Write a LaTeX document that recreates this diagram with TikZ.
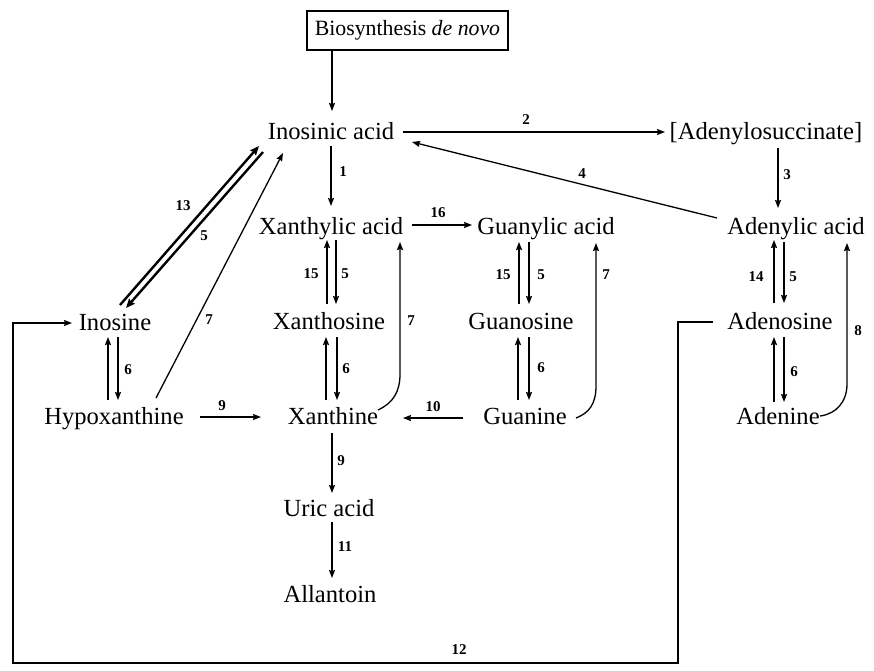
\documentclass[tikz,border=0pt]{standalone}
\usepackage{fontspec}
\setmainfont{Liberation Serif}
\usetikzlibrary{arrows.meta,calc}
\begin{document}
\begin{tikzpicture}[x=1pt,y=-1pt,
  chem/.style={inner sep=0pt,text height=16pt,text depth=0pt,font=\fontsize{24.6}{27}\selectfont},
  lbl/.style={inner sep=0pt,font=\fontsize{15}{15}\selectfont\bfseries},
  arr/.style={line width=1.3pt,-{Stealth[length=8pt,width=6pt,inset=1pt]}},
  thickarr/.style={line width=2.4pt,-{Stealth[length=9pt,width=7.5pt,inset=1pt]}},
  plain/.style={line width=1.3pt}]
\useasboundingbox (0,0) rectangle (874,670);
% nodes
\node[draw,line width=1.5pt,minimum width=201pt,minimum height=39pt,inner sep=0pt,font=\fontsize{21.8}{24}\selectfont] (bio) at (407.5,30.5) {Biosynthesis \textit{de novo}};
\node[chem] (ia) at (331,131) {Inosinic acid};
\node[chem] (as) at (766,131) {[Adenylosuccinate]};
\node[chem] (xa) at (331,226) {Xanthylic acid};
\node[chem] (ga) at (546,226) {Guanylic acid};
\node[chem] (ada) at (796,226) {Adenylic acid};
\node[chem] (ino) at (115,322) {Inosine};
\node[chem] (xs) at (329,321) {Xanthosine};
\node[chem] (gs) at (521,321) {Guanosine};
\node[chem] (ads) at (780,321) {Adenosine};
\node[chem] (hx) at (114,416) {Hypoxanthine};
\node[chem] (xn) at (333,416) {Xanthine};
\node[chem] (gn) at (525,416) {Guanine};
\node[chem] (ade) at (778,416) {Adenine};
\node[chem] (ua) at (329,508) {Uric acid};
\node[chem] (al) at (330,594) {Allantoin};
% connectors
\draw[arr] ($(bio.south)+(-75.5,0)$) -- ($(ia)+(1,-20)$);
\draw[arr] ($(ia)+(72,1)$) -- ($(as)+(-101,1)$);
\draw[arr] ($(as)+(12,17)$) -- ($(ada)+(-18,-18)$);
\draw[arr] ($(ada)+(-79,-8)$) -- ($(ia)+(81,11)$);
\draw[arr] ($(ia)+(0,15)$) -- ($(xa)+(0,-20)$);
\draw[arr] ($(xa)+(81,-1)$) -- ($(ga)+(-74,-1)$);
% xa <-> xs
\draw[arr] ($(xs)+(-2,-17)$) -- ($(xa)+(-4,14)$);
\draw[arr] ($(xa)+(5,14)$) -- ($(xs)+(7,-17)$);
% xs <-> xn
\draw[arr] ($(xn)+(-7,-16)$) -- ($(xs)+(-3,16)$);
\draw[arr] ($(xs)+(8,16)$) -- ($(xn)+(4,-16)$);
% 7 xn -> xa
\draw[arr] ($(xn)+(45,-6)$) .. controls ($(xn)+(60,-13)$) and ($(xn)+(67,-24)$) .. ($(xn)+(67,-42)$) -- ($(xa)+(69,16)$);
% ga <-> gs
\draw[arr] ($(gs)+(-2,-17)$) -- ($(ga)+(-27,16)$);
\draw[arr] ($(ga)+(-17,16)$) -- ($(gs)+(8,-17)$);
% gs <-> gn
\draw[arr] ($(gn)+(-7,-16)$) -- ($(gs)+(-3,16)$);
\draw[arr] ($(gs)+(8,16)$) -- ($(gn)+(4,-16)$);
% 7 gn -> ga
\draw[arr] ($(gn)+(51,2)$) .. controls ($(gn)+(64,-3)$) and ($(gn)+(71,-12)$) .. ($(gn)+(71,-30)$) -- ($(ga)+(50,17)$);
% 10, 9
\draw[arr] ($(gn)+(-62,2)$) -- ($(xn)+(70,2)$);
\draw[arr] ($(hx)+(86,1)$) -- ($(xn)+(-72,1)$);
% ada <-> ads
\draw[arr] ($(ads)+(-6,-18)$) -- ($(ada)+(-22,14)$);
\draw[arr] ($(ada)+(-12,16)$) -- ($(ads)+(4,-18)$);
% ads <-> ade
\draw[arr] ($(ade)+(-4,-14)$) -- ($(ads)+(-6,16)$);
\draw[arr] ($(ads)+(4,16)$) -- ($(ade)+(6,-14)$);
% 8
\draw[arr] ($(ade)+(42,0)$) .. controls ($(ade)+(58,-2)$) and ($(ade)+(69,-14)$) .. ($(ade)+(69,-32)$) -- ($(ada)+(51,17)$);
% 12 loop
\draw[arr] ($(ads)+(-67,1)$) -- ++(-35,0) -- ++(0,341) -- ++(-665,0) |- ($(ino)+(-43,1)$);
% ino <-> hx
\draw[arr] ($(hx)+(-6,-16)$) -- ($(ino)+(-7,15)$);
\draw[arr] ($(ino)+(3,15)$) -- ($(hx)+(4,-16)$);
% 7 hx -> ia
\draw[arr] ($(hx)+(42,-18)$) -- ($(ia)+(-48,22)$);
% 13 / 5
\draw[thickarr] ($(ino)+(5,-17)$) -- ($(ia)+(-72,15)$);
\draw[thickarr] ($(ia)+(-68,21)$) -- ($(ino)+(11,-14)$);
% 9, 11
\draw[arr] ($(xn)+(-1,17)$) -- ($(ua)+(3,-15)$);
\draw[arr] ($(ua)+(3,14)$) -- ($(al)+(2,-16)$);
% labels
\node[lbl] (l2) at (526,120) {2};
\node[lbl] (l3) at (787,175) {3};
\node[lbl] (l4) at (582,174) {4};
\node[lbl] (l1) at (343,172) {1};
\node[lbl] (l16) at (438,213) {16};
\node[lbl] (l15a) at (311,274) {15};
\node[lbl] (l5a) at (345,274) {5};
\node[lbl] (l6a) at (346,369) {6};
\node[lbl] (l7a) at (411,321) {7};
\node[lbl] (l15b) at (503,275) {15};
\node[lbl] (l5b) at (541,275) {5};
\node[lbl] (l6b) at (541,368) {6};
\node[lbl] (l7b) at (606,275) {7};
\node[lbl] (l10) at (433,407) {10};
\node[lbl] (l9a) at (222,406) {9};
\node[lbl] (l14) at (756,277) {14};
\node[lbl] (l5c) at (793,277) {5};
\node[lbl] (l6c) at (794,372) {6};
\node[lbl] (l8) at (858,331) {8};
\node[lbl] (l12) at (459,650) {12};
\node[lbl] (l6d) at (128,370) {6};
\node[lbl] (l7c) at (209,320) {7};
\node[lbl] (l13) at (183,206) {13};
\node[lbl] (l5d) at (204,236) {5};
\node[lbl] (l9b) at (341,461) {9};
\node[lbl] (l11) at (345,547) {11};
\end{tikzpicture}
\end{document}
